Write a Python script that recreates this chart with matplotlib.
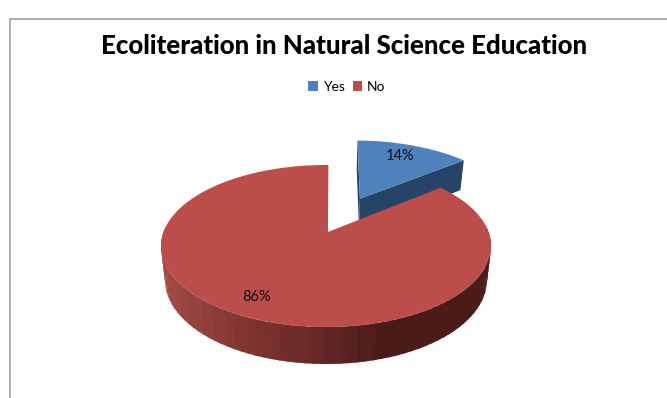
"""3-D style exploded pie: ecoliteration answers, drawn as projected polygons."""
import matplotlib

matplotlib.use("Agg")
import matplotlib.pyplot as plt
import numpy as np
from matplotlib.colors import LinearSegmentedColormap
from matplotlib.patches import Patch, Polygon

labels = ["Yes", "No"]
shares = [14, 86]
title = "Ecoliteration in Natural Science Education"

top_colors = ["#4f81bd", "#bd4d4b"]
side_color_blue = "#264566"

# ellipse of the pie's top face, in pixels
CX, CY, RX, RY = 326.0, 246.0, 165.0, 81.0
TILT = 0.173  # perspective: moves the disc centre up inside the ellipse
EXPLODE = 0.51
START = 1.0 / 360  # first slice begins just past twelve o'clock
APEX_U = 0.012

side_cmap = LinearSegmentedColormap.from_list(
    "side", [(0, "#a24c46"), (0.27, "#803431"), (0.55, "#5f2522"), (0.68, "#4a1b19"), (1, "#4a1b19")]
)

plt.rcParams["font.family"] = ["Lato", "DejaVu Sans"]


def project(u, v):
    """Disc coordinates (u right, v away from viewer) to image pixels."""
    w = 1 + TILT * v
    x = u * np.sqrt(1 - TILT**2) / w
    y = (v + TILT) / w
    return CX + RX * x, CY - RY * y


def bottom(u, v):
    """Same disc point on the lower face of the slab."""
    x, y = project(u, v)
    return CX + (x - CX) * 0.975, y + 33.5 - 3.5 * np.asarray(v)


def wedge_uv(start, stop, ou=0.0, ov=0.0, n=160):
    # angles run clockwise from the top, in fractions of the full pie
    a = 2 * np.pi * (START + np.linspace(start, stop, n))
    return ou + np.sin(a), ov + np.cos(a)


fig = plt.figure(figsize=(6.67, 3.98), dpi=100)
ax = fig.add_axes([0, 0, 1, 1])
ax.set_xlim(0, 667)
ax.set_ylim(398, 0)
ax.axis("off")

# chart frame, only its top and left edges are in view
ax.plot([10, 10, 667], [398, 19, 19], color="#a6a6a6", lw=1.3)

fractions = np.array(shares) / sum(shares)
yes_frac = fractions[0]
mid = 2 * np.pi * (START + yes_frac / 2)
ou, ov = EXPLODE * np.sin(mid), EXPLODE * np.cos(mid)

# exploded slice first, it sits behind the big one
u, v = wedge_uv(0, yes_frac, ou, ov)
for end_u, end_v in [(u[0], v[0]), (u[-1], v[-1])]:
    us = np.array([ou, end_u])
    vs = np.array([ov, end_v])
    tx, ty = project(us, vs)
    bx, by = bottom(us, vs)
    ax.add_patch(Polygon(np.r_[np.c_[tx, ty], np.c_[bx, by][::-1]], fc=side_color_blue, ec="none"))
tx, ty = project(np.r_[ou, u], np.r_[ov, v])
ax.add_patch(Polygon(np.c_[tx, ty], fc=top_colors[0], ec="none"))

# rim of the big slice as bands, darkening to the right; each band
# overlaps the next one so no seams show between them
u, v = wedge_uv(yes_frac, 1, n=360)
tx, ty = project(u, v)
bx, by = bottom(u, v)
left, right = tx.min(), tx.max()
step = 3
for i in range(0, len(u) - step - 1, step):
    if v[i] > 0.05 and v[i + step] > 0.05:
        continue
    j = i + step + 1
    quad = np.r_[np.c_[tx[i:j + 1], ty[i:j + 1]], np.c_[bx[i:j + 1], by[i:j + 1]][::-1]]
    shade = side_cmap(round(((tx[i] - left) / (right - left)) * 28) / 28)
    ax.add_patch(Polygon(quad, fc=shade, ec="none"))

tx, ty = project(np.r_[APEX_U, u], np.r_[0.0, v])
ax.add_patch(Polygon(np.c_[tx, ty], fc=top_colors[1], ec="none"))

ax.text(400, 156, f"{shares[0]}%", ha="center", va="center", fontsize=10.5, color="#111111")
ax.text(257, 297, f"{shares[1]}%", ha="center", va="center", fontsize=10.5, color="#111111")

ax.text(344, 46, title, ha="center", va="center", fontsize=18.6, fontweight="black", color="black")

handles = [Patch(fc=c, ec="none", label=lb) for c, lb in zip(top_colors, labels)]
ax.legend(
    handles=handles,
    ncol=2,
    loc="center",
    bbox_to_anchor=(347 / 667, 1 - 87 / 398),
    frameon=False,
    fontsize=10,
    handlelength=0.7,
    handleheight=0.7,
    handletextpad=0.35,
    columnspacing=0.55,
    borderpad=0,
)

fig.savefig("out.png", dpi=100)
plt.close(fig)
